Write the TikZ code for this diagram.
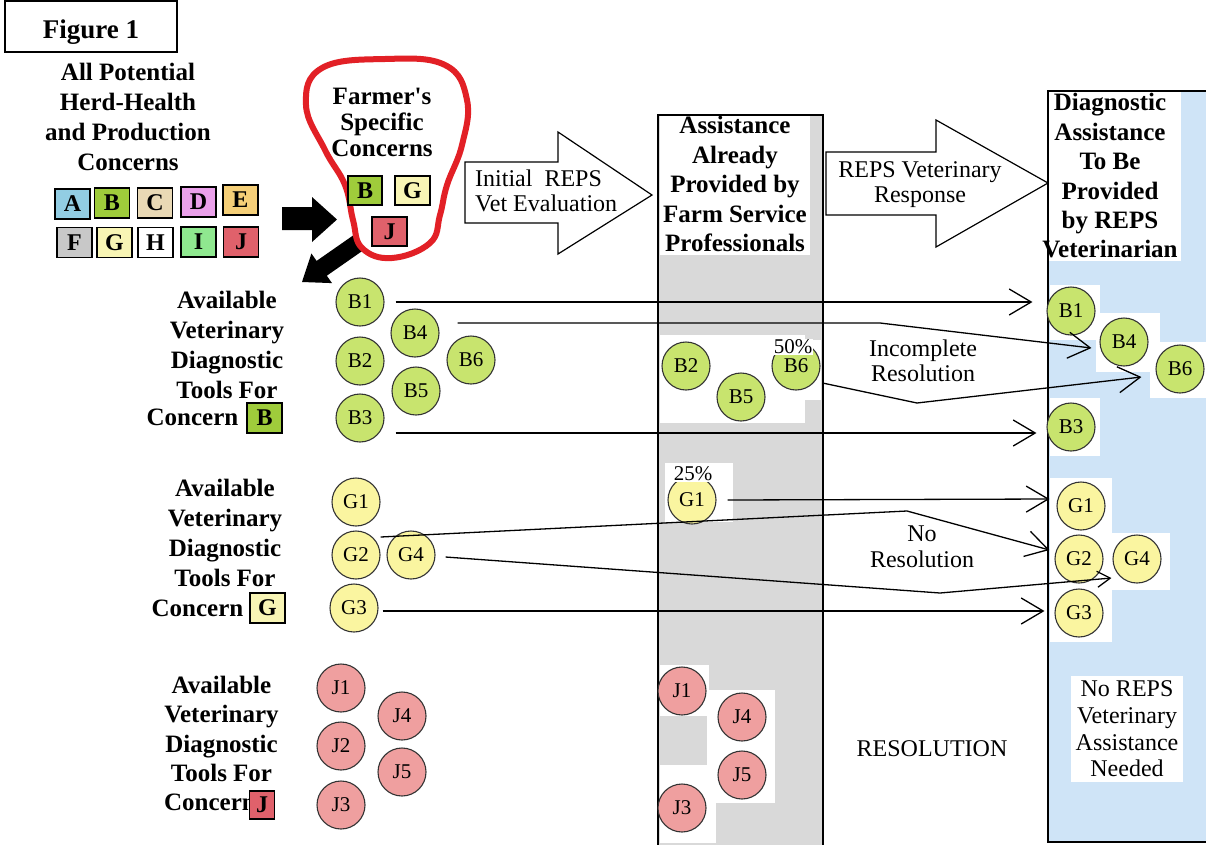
\documentclass[tikz,border=0pt]{standalone}
\usepackage{fontspec}
\setmainfont{Liberation Serif}
\usetikzlibrary{arrows.meta}
\definecolor{cA}{HTML}{92CDE3}
\definecolor{cB}{HTML}{9FCC3B}
\definecolor{cC}{HTML}{E9D9B5}
\definecolor{cD}{HTML}{EAA0EA}
\definecolor{cE}{HTML}{F5CF78}
\definecolor{cF}{HTML}{C8C8C8}
\definecolor{cG}{HTML}{F8F5B5}
\definecolor{cH}{HTML}{FFFFFF}
\definecolor{cI}{HTML}{8FE88F}
\definecolor{cJ}{HTML}{E0616B}
\definecolor{tB}{HTML}{C8E46E}
\definecolor{tG}{HTML}{FAF5A0}
\definecolor{tJ}{HTML}{EF9F9F}
\definecolor{colGray}{HTML}{D9D9D9}
\definecolor{colBlue}{HTML}{CFE4F7}
\definecolor{loopRed}{HTML}{E22026}
\begin{document}
\begin{tikzpicture}[x=1pt,y=-1pt,
  ttl/.style={align=center, inner sep=0pt, font=\fontsize{25}{#1}\selectfont\bfseries},
  ttl/.default=30,
  lbl/.style={align=center, inner sep=0pt, font=\fontsize{24}{#1}\selectfont},
  lbl/.default=25,
  cbox/.style={draw, line width=1.2pt, fill=#1, minimum width=35pt, minimum height=30pt, inner sep=0pt, font=\fontsize{24}{28}\selectfont\bfseries},
  tool/.style={circle, draw=black!80, line width=1.1pt, fill=#1, minimum size=48pt, inner sep=0pt, font=\fontsize{21}{24}\selectfont},
  pct/.style={inner sep=1pt, fill=white, font=\fontsize{21}{24}\selectfont},
  conn/.style={line width=1.3pt, -{Straight Barb[length=22pt,width=26pt]}},
  smallhead/.style={-{Straight Barb[length=13pt,width=16pt]}},
  bigarrow/.style={draw, fill=white, line width=1.2pt},
  patch/.style={fill=white}
]
\fill[white] (0,0) rectangle (1206,844);
\useasboundingbox (0,0) rectangle (1206,844);

% columns (fills)
\fill[colGray] (658,115) rectangle (823,850);
\fill[colBlue] (1048,91) rectangle (1215,842);

% white patches
\fill[patch] (660,335) rectangle (805,423);
\fill[patch] (770,340) rectangle (821,400);
\fill[patch] (665,463) rectangle (733,522);
\fill[patch] (660,665) rectangle (709,716);
\fill[patch] (707,690) rectangle (775,803);
\fill[patch] (660,765) rectangle (716,843);
\fill[patch] (1050,285) rectangle (1100,340);
\fill[patch] (1096,313) rectangle (1160,372);
\fill[patch] (1150,342) rectangle (1206,398);
\fill[patch] (1050,398) rectangle (1100,456);
\fill[patch] (1050,478) rectangle (1112,642);
\fill[patch] (1108,533) rectangle (1170,590);

% column titles
\node[ttl=29.5, fill=white, inner sep=3pt] (gtitle) at (735,184) {Assistance\\Already\\Provided by\\Farm Service\\Professionals};
\node[ttl=29.4, fill=white, inner sep=3pt] (btitle) at (1110,176) {Diagnostic\\Assistance\\To Be\\Provided\\by REPS\\Veterinarian};
\node[lbl=26.7, fill=white, inner sep=5pt] (noreps) at (1127,729) {No REPS\\Veterinary\\Assistance\\Needed};

% column borders
\draw[line width=1.3pt] (658,850) -- (658,115) -- (823,115) -- (823,850);
\draw[line width=1.3pt] (1215,91) -- (1048,91) -- (1048,842) -- (1215,842);

% Figure box
\node[draw, line width=1.3pt, minimum width=172pt, minimum height=51pt, inner sep=0pt,
      text height=23pt, text depth=0pt, font=\fontsize{27}{30}\selectfont\bfseries] (fig) at (91,26.5) {Figure 1};

% all concerns
\node[ttl=30] (allc) at (128,117) {All Potential\\Herd-Health\\and Production\\Concerns};
\node[cbox=cA] (qA) at (72.5,204) {A};
\node[cbox=cB] (qB) at (112,203) {B};
\node[cbox=cC] (qC) at (155,203) {C};
\node[cbox=cD] (qD) at (198.5,202) {D};
\node[cbox=cE] (qE) at (240.5,200) {E};
\node[cbox=cF] (qF) at (74.5,242.5) {F};
\node[cbox=cG] (qG) at (114.5,242.5) {G};
\node[cbox=cH] (qH) at (155.5,242.5) {H};
\node[cbox=cI] (qI) at (198.5,242) {I};
\node[cbox=cJ] (qJ) at (241,242) {J};

% black arrows
\fill[black] (282,207) -- (312,207) -- (312,197) -- (337,219.5) -- (312,242) -- (312,230) -- (282,230) -- cycle;
\fill[black] (363.1,250.4) -- (326.8,275.7) -- (332.0,283.1) -- (302,282) -- (311.4,253.5) -- (316.6,260.9) -- (352.9,235.6) -- cycle;

% red loop
\draw[loopRed, line width=6pt, line join=round] plot[smooth cycle, tension=0.7] coordinates
  {(385,59) (445,65) (467,100) (462,145) (447,185) (440,215) (430,243) (392,258) (362,248) (353,220) (345,185) (325,150) (306,105) (322,68)};
\node[ttl=26] (farmer) at (382,122) {Farmer\textquotesingle s\\Specific\\Concerns};
\node[cbox=cB, minimum width=34pt, minimum height=29pt] (fB) at (365,190.5) {B};
\node[cbox=cG, minimum height=29pt] (fG) at (412.5,190.5) {G};
\node[cbox=cJ, minimum height=29pt] (fJ) at (389.5,231.5) {J};

% big hollow arrows
\draw[bigarrow] (465,162) -- (558,162) -- (558,132) -- (652,195) -- (558,254) -- (558,223) -- (465,223) -- cycle;
\node[lbl=25, align=left, anchor=west] (initial) at (475,191.3) {Initial\ \ REPS\\Vet Evaluation};
\draw[bigarrow] (826,152) -- (936,152) -- (936,120) -- (1048,183) -- (936,247) -- (936,215) -- (826,215) -- cycle;
\node[lbl=25] (response) at (920,185) {REPS Veterinary\\Response};

% section labels
\node[ttl=30] (secB) at (227,345) {Available\\Veterinary\\Diagnostic\\Tools For};
\node[ttl] (conB) at (192.5,417) {Concern};
\node[cbox=cB] (sB) at (264.5,418) {B};
\node[ttl=30] (secG) at (225,533) {Available\\Veterinary\\Diagnostic\\Tools For};
\node[ttl] (conG) at (197.5,608) {Concern};
\node[cbox=cG] (sG) at (267.5,608) {G};
\node[ttl=29.3] (secJ) at (221.5,729) {Available\\Veterinary\\Diagnostic\\Tools For};
\node[ttl, anchor=east] (conJ) at (256,802) {Concern};
\node[cbox=cJ, minimum width=25pt, minimum height=28pt] (sJ) at (262,805) {J};

% middle labels
\node[lbl=25] (incomp) at (923,361) {Incomplete\\Resolution};
\node[lbl=26] (nores) at (922,547) {No\\Resolution};
\node[lbl] (resol) at (932,749) {RESOLUTION};

% tools: left
\node[tool=tB] (lB1) at (360,302) {B1};
\node[tool=tB] (lB2) at (360,361) {B2};
\node[tool=tB] (lB3) at (360,418) {B3};
\node[tool=tB] (lB4) at (415,333) {B4};
\node[tool=tB] (lB5) at (416,391) {B5};
\node[tool=tB] (lB6) at (471,360) {B6};
\node[tool=tG] (lG1) at (356,502) {G1};
\node[tool=tG] (lG2) at (356,555) {G2};
\node[tool=tG] (lG4) at (411,555) {G4};
\node[tool=tG] (lG3) at (354,608) {G3};
\node[tool=tJ] (lJ1) at (341,688) {J1};
\node[tool=tJ] (lJ4) at (402,716) {J4};
\node[tool=tJ] (lJ2) at (341,746) {J2};
\node[tool=tJ] (lJ5) at (402,772) {J5};
\node[tool=tJ] (lJ3) at (341,805) {J3};
% tools: middle
\node[tool=tB] (mB2) at (686,366) {B2};
\node[tool=tB] (mB5) at (741,397) {B5};
\node[tool=tB] (mB6) at (796,366) {B6};
\node[pct] (p50) at (793,347) {50\%};
\node[tool=tG] (mG1) at (692,500) {G1};
\node[pct] (p25) at (693,474) {25\%};
\node[tool=tJ] (mJ1) at (682,691) {J1};
\node[tool=tJ] (mJ4) at (742,717) {J4};
\node[tool=tJ] (mJ5) at (742,775) {J5};
\node[tool=tJ] (mJ3) at (682,808) {J3};
% tools: right
\node[tool=tB] (rB1) at (1071,311) {B1};
\node[tool=tB] (rB4) at (1124,342) {B4};
\node[tool=tB] (rB6) at (1180,369) {B6};
\node[tool=tB] (rB3) at (1071,427) {B3};
\node[tool=tG] (rG1) at (1081,506) {G1};
\node[tool=tG] (rG2) at (1079,559) {G2};
\node[tool=tG] (rG4) at (1137,559) {G4};
\node[tool=tG] (rG3) at (1079,613) {G3};

% connectors
\coordinate (kB4) at (880,323);
\coordinate (kB6) at (917,403);
\coordinate (kG2) at (907,511);
\coordinate (kG4) at (940,593);
\draw[conn] ([xshift=11pt]lB1.east) -- ([xshift=-14pt,yshift=9pt]rB1.west);
\draw[conn] ([xshift=18pt,yshift=10pt]lB4.east) -- (kB4) -- ([xshift=-8pt,yshift=-6pt]rB4.west);
\draw[conn] ([xshift=2pt,yshift=-17pt]mB6.east) -- (kB6) -- ([xshift=-14pt,yshift=-8pt]rB6.west);
\draw[conn] ([xshift=11pt,yshift=-15pt]lB3.east) -- ([xshift=-10pt,yshift=-6pt]rB3.west);
\draw[conn] ([xshift=11pt]mG1.east) -- ([xshift=-7pt,yshift=7pt]rG1.west);
\draw[conn] ([yshift=18pt]lG2.east) -- (kG2) -- ([xshift=-5pt,yshift=9pt]rG2.west);
\draw[conn, smallhead] ([xshift=10pt,yshift=-2pt]lG4.east) -- (kG4) -- ([xshift=-1pt,yshift=-19pt]rG4.west);
\draw[conn] ([xshift=4pt,yshift=-3pt]lG3.east) -- ([xshift=-10pt,yshift=2pt]rG3.west);
\end{tikzpicture}
\end{document}
